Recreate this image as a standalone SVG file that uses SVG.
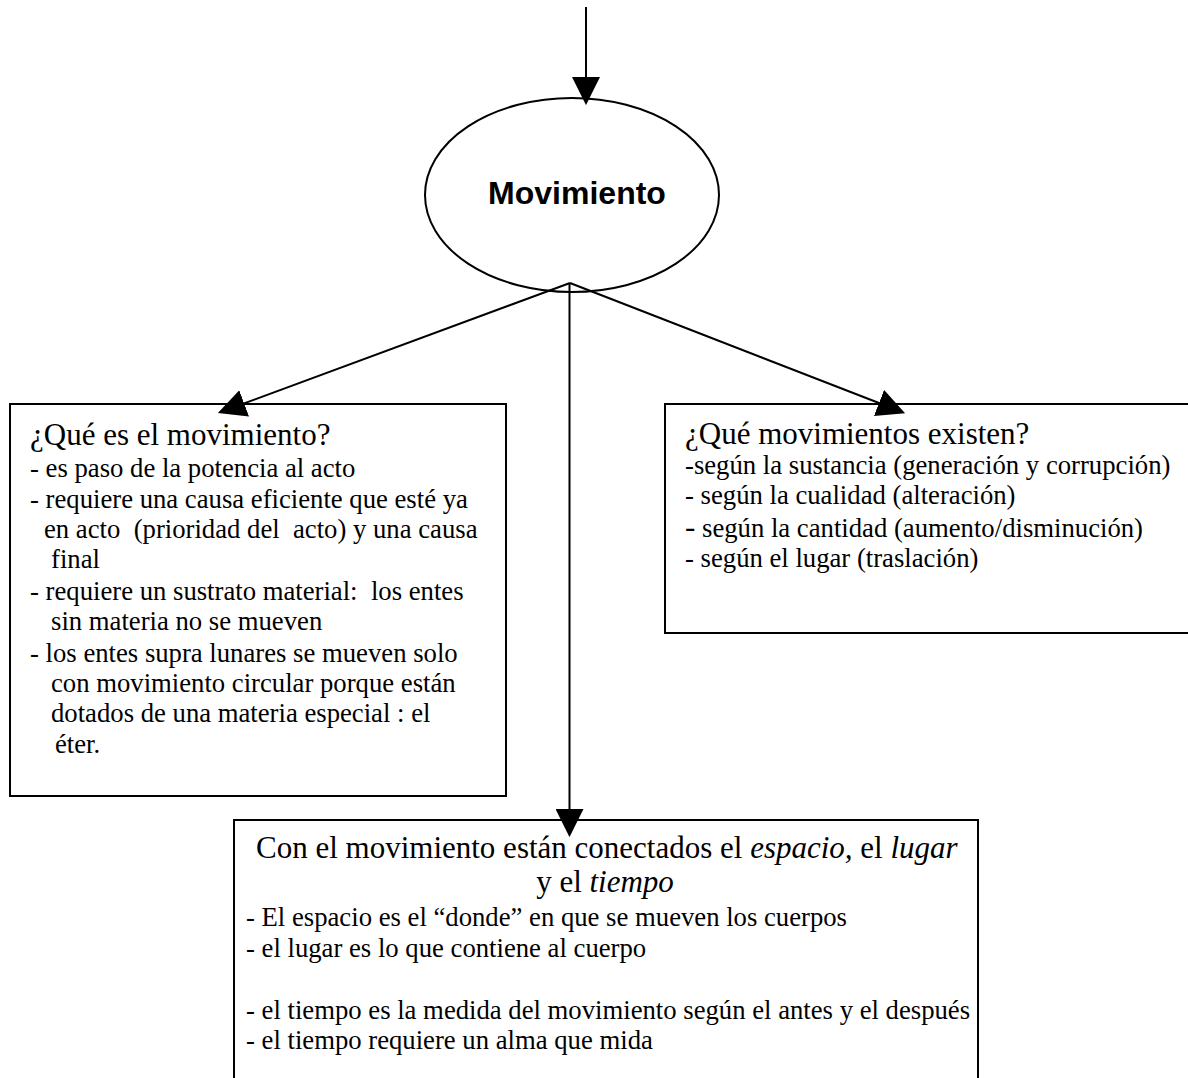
<svg xmlns="http://www.w3.org/2000/svg" width="1188" height="1078" viewBox="0 0 1188 1078">
  <style>
    .box { fill: #fff; stroke: #000; stroke-width: 2; }
    .oval { fill: none; stroke: #000; stroke-width: 2; }
    .edge { fill: none; stroke: #000; stroke-width: 2; }
    .t { font-family: "Liberation Serif", "Times New Roman", serif; fill: #000; white-space: pre; }
    .head { font-size: 31px; }
    .body { font-size: 26.7px; }
    .title { font-family: "Liberation Sans", Arial, sans-serif; font-weight: bold; font-size: 32px; fill: #000; }
    .it { font-style: italic; }
  </style>
  <defs>
    <marker id="arrow" markerUnits="userSpaceOnUse" markerWidth="28" markerHeight="28" viewBox="0 0 27 27" refX="24" refY="13.5" orient="auto">
      <path d="M0,0 L27,13.5 L0,27 z" fill="#000"/>
    </marker>
  </defs>

  <!-- central concept -->
  <g id="movimiento">
    <ellipse class="oval" cx="572" cy="195" rx="147" ry="97"/>
    <text class="title" x="577" y="204" text-anchor="middle">Movimiento</text>
  </g>

  <!-- what motion is -->
  <g id="que-es">
    <rect class="box" x="10" y="404" width="496" height="392"/>
    <g class="t">
      <text class="head" x="30" y="445">¿Qué es el movimiento?</text>
      <text class="body" x="30" y="477">- es paso de la potencia al acto</text>
      <text class="body" x="30" y="508">- requiere una causa eficiente que esté ya</text>
      <text class="body" x="44" y="538" xml:space="preserve">en acto  (prioridad del  acto) y una causa</text>
      <text class="body" x="51" y="568">final</text>
      <text class="body" x="30" y="600" xml:space="preserve">- requiere un sustrato material:  los entes</text>
      <text class="body" x="51" y="630">sin materia no se mueven</text>
      <text class="body" x="30" y="662">- los entes supra lunares se mueven solo</text>
      <text class="body" x="51" y="692">con movimiento circular porque están</text>
      <text class="body" x="51" y="722">dotados de una materia especial : el</text>
      <text class="body" x="55" y="753">éter.</text>
    </g>
  </g>

  <!-- kinds of motion -->
  <g id="tipos">
    <rect class="box" x="665" y="404" width="540" height="229"/>
    <g class="t">
      <text class="head" x="685" y="444">¿Qué movimientos existen?</text>
      <text class="body" x="685" y="474">-según la sustancia (generación y corrupción)</text>
      <text class="body" x="685" y="504">- según la cualidad (alteración)</text>
      <text class="body" x="685" y="537" xml:space="preserve"><tspan font-size="31px">-</tspan> según la cantidad (aumento/disminución)</text>
      <text class="body" x="685" y="567">- según el lugar (traslación)</text>
    </g>
  </g>

  <!-- space, place and time -->
  <g id="espacio-lugar-tiempo">
    <rect class="box" x="234" y="820" width="744" height="270"/>
    <g class="t">
      <text class="head" x="256" y="858" font-size="30.6px" xml:space="preserve">Con el movimiento están conectados el <tspan class="it">espacio,</tspan> el <tspan class="it">lugar</tspan></text>
      <text class="head" x="605" y="892" font-size="30.6px" text-anchor="middle" xml:space="preserve">y el <tspan class="it">tiempo</tspan></text>
      <text class="body" x="246" y="926">- El espacio es el “donde” en que se mueven los cuerpos</text>
      <text class="body" x="246" y="957">- el lugar es lo que contiene al cuerpo</text>
      <text class="body" x="246" y="1019">- el tiempo es la medida del movimiento según el antes y el después</text>
      <text class="body" x="246" y="1049">- el tiempo requiere un alma que mida</text>
    </g>
  </g>

  <!-- connectors -->
  <g id="connectors">
    <line class="edge" x1="586" y1="7" x2="586" y2="102" marker-end="url(#arrow)"/>
    <line class="edge" x1="570" y1="283" x2="220.8" y2="412" marker-end="url(#arrow)"/>
    <line class="edge" x1="570" y1="283" x2="902.2" y2="412" marker-end="url(#arrow)"/>
    <line class="edge" x1="569.5" y1="283" x2="569.5" y2="834" marker-end="url(#arrow)"/>
  </g>
</svg>
